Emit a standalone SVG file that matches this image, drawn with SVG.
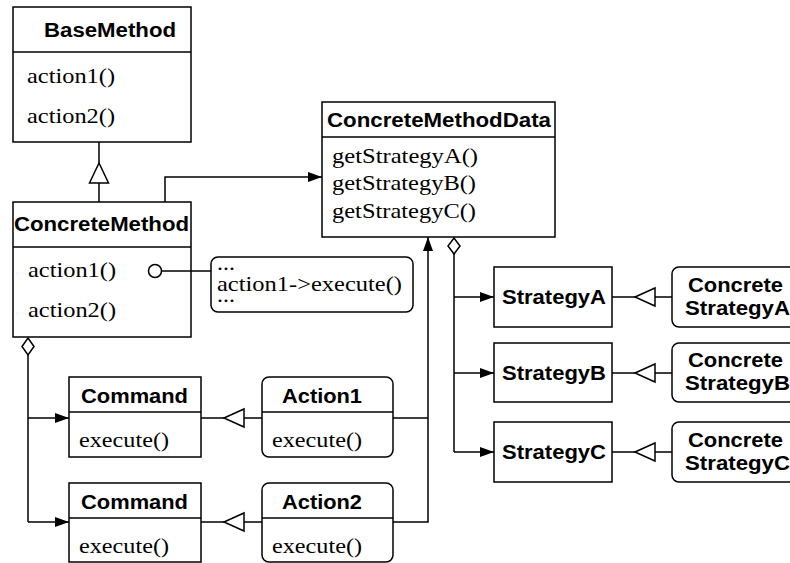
<svg xmlns="http://www.w3.org/2000/svg" width="790" height="563" viewBox="0 0 790 563">
  <style>
    .box { fill: #fff; stroke: #000; stroke-width: 1.5; }
    .sep { stroke: #000; stroke-width: 1.5; }
    .ln { fill: none; stroke: #000; stroke-width: 1.5; }
    .open { fill: #fff; stroke: #000; stroke-width: 1.5; }
    .title { font-family: "Liberation Sans", Arial, sans-serif; font-weight: bold; font-size: 20px; fill: #000; }
    .op { font-family: "Liberation Serif", "Times New Roman", serif; font-size: 22px; fill: #000; }
  </style>
  <defs>
    <marker id="arrow" viewBox="0 0 14 10" refX="14" refY="5" markerWidth="14" markerHeight="10" markerUnits="userSpaceOnUse" orient="auto">
      <path d="M0,0 L14,5 L0,10 z" fill="#000"/>
    </marker>
  </defs>

  <rect width="790" height="563" fill="#fff"/>

  <g id="BaseMethod">
    <rect class="box" x="13" y="7" width="178" height="135"/>
    <line class="sep" x1="13" y1="52" x2="191" y2="52"/>
    <text class="title" x="44" y="37" textLength="132" lengthAdjust="spacingAndGlyphs">BaseMethod</text>
    <text class="op" x="27" y="83" textLength="88" lengthAdjust="spacingAndGlyphs">action1()</text>
    <text class="op" x="27" y="123" textLength="88" lengthAdjust="spacingAndGlyphs">action2()</text>
  </g>

  <g id="ConcreteMethod">
    <rect class="box" x="13" y="202" width="178" height="135"/>
    <line class="sep" x1="13" y1="247" x2="191" y2="247"/>
    <text class="title" x="14" y="231" textLength="175" lengthAdjust="spacingAndGlyphs">ConcreteMethod</text>
    <text class="op" x="28" y="277" textLength="88" lengthAdjust="spacingAndGlyphs">action1()</text>
    <text class="op" x="28" y="317" textLength="88" lengthAdjust="spacingAndGlyphs">action2()</text>
  </g>

  <g id="note">
    <rect class="box" x="211" y="257" width="202" height="55" rx="7"/>
    <text class="op" x="217" y="270" textLength="18" lengthAdjust="spacingAndGlyphs">...</text>
    <text class="op" x="217" y="291" textLength="185" lengthAdjust="spacingAndGlyphs">action1-&gt;execute()</text>
    <text class="op" x="217" y="302" textLength="18" lengthAdjust="spacingAndGlyphs">...</text>
  </g>

  <g id="ConcreteMethodData">
    <rect class="box" x="322" y="102" width="233" height="135"/>
    <line class="sep" x1="322" y1="137" x2="555" y2="137"/>
    <text class="title" x="327" y="127" textLength="224" lengthAdjust="spacingAndGlyphs">ConcreteMethodData</text>
    <text class="op" x="332" y="163" textLength="146" lengthAdjust="spacingAndGlyphs">getStrategyA()</text>
    <text class="op" x="332" y="190" textLength="144" lengthAdjust="spacingAndGlyphs">getStrategyB()</text>
    <text class="op" x="332" y="218" textLength="144" lengthAdjust="spacingAndGlyphs">getStrategyC()</text>
  </g>

  <g id="StrategyA">
    <rect class="box" x="494" y="267" width="118" height="60"/>
    <text class="title" x="502" y="304" textLength="104" lengthAdjust="spacingAndGlyphs">StrategyA</text>
  </g>
  <g id="StrategyB">
    <rect class="box" x="494" y="343" width="118" height="59"/>
    <text class="title" x="502" y="380" textLength="104" lengthAdjust="spacingAndGlyphs">StrategyB</text>
  </g>
  <g id="StrategyC">
    <rect class="box" x="494" y="422" width="118" height="60"/>
    <text class="title" x="502" y="459" textLength="104" lengthAdjust="spacingAndGlyphs">StrategyC</text>
  </g>

  <g id="ConcreteStrategyA">
    <rect class="box" x="672" y="267" width="130" height="60" rx="7"/>
    <text class="title" x="688" y="292" textLength="95" lengthAdjust="spacingAndGlyphs">Concrete</text>
    <text class="title" x="685" y="315" textLength="105" lengthAdjust="spacingAndGlyphs">StrategyA</text>
  </g>
  <g id="ConcreteStrategyB">
    <rect class="box" x="672" y="343" width="130" height="59" rx="7"/>
    <text class="title" x="688" y="367" textLength="95" lengthAdjust="spacingAndGlyphs">Concrete</text>
    <text class="title" x="685" y="390" textLength="105" lengthAdjust="spacingAndGlyphs">StrategyB</text>
  </g>
  <g id="ConcreteStrategyC">
    <rect class="box" x="672" y="422" width="130" height="60" rx="7"/>
    <text class="title" x="688" y="447" textLength="95" lengthAdjust="spacingAndGlyphs">Concrete</text>
    <text class="title" x="685" y="470" textLength="105" lengthAdjust="spacingAndGlyphs">StrategyC</text>
  </g>

  <g id="Command1">
    <rect class="box" x="69" y="377" width="132" height="80"/>
    <line class="sep" x1="69" y1="412" x2="201" y2="412"/>
    <text class="title" x="81" y="403" textLength="107" lengthAdjust="spacingAndGlyphs">Command</text>
    <text class="op" x="79" y="447" textLength="90" lengthAdjust="spacingAndGlyphs">execute()</text>
  </g>
  <g id="Command2">
    <rect class="box" x="69" y="483" width="132" height="79"/>
    <line class="sep" x1="69" y1="518" x2="201" y2="518"/>
    <text class="title" x="81" y="509" textLength="107" lengthAdjust="spacingAndGlyphs">Command</text>
    <text class="op" x="79" y="553" textLength="90" lengthAdjust="spacingAndGlyphs">execute()</text>
  </g>

  <g id="Action1">
    <rect class="box" x="262" y="377" width="131" height="80" rx="7"/>
    <line class="sep" x1="262" y1="412" x2="393" y2="412"/>
    <text class="title" x="282" y="403" textLength="80" lengthAdjust="spacingAndGlyphs">Action1</text>
    <text class="op" x="272" y="447" textLength="90" lengthAdjust="spacingAndGlyphs">execute()</text>
  </g>
  <g id="Action2">
    <rect class="box" x="262" y="483" width="131" height="79" rx="7"/>
    <line class="sep" x1="262" y1="518" x2="393" y2="518"/>
    <text class="title" x="282" y="509" textLength="80" lengthAdjust="spacingAndGlyphs">Action2</text>
    <text class="op" x="272" y="553" textLength="90" lengthAdjust="spacingAndGlyphs">execute()</text>
  </g>

  <!-- connectors, drawn over the class boxes -->
  <g id="connectors">
    <!-- ConcreteMethod extends BaseMethod -->
    <path class="ln" d="M99,142 V163 M99,183 V202"/>
    <polygon class="open" points="99,163 89.5,183 108.5,183"/>

    <!-- ConcreteMethod uses ConcreteMethodData -->
    <path class="ln" d="M165,202 V177 H322" marker-end="url(#arrow)"/>

    <!-- note link from action1() -->
    <circle class="open" cx="155" cy="271" r="6.5"/>
    <path class="ln" d="M161.5,271 H211"/>

    <!-- Actions use ConcreteMethodData -->
    <path class="ln" d="M393,418 H428 M393,522 H428 V237" marker-end="url(#arrow)"/>

    <!-- ConcreteMethodData aggregates strategies -->
    <path class="ln" d="M454,254 V452"/>
    <polygon class="open" points="454,238 460,246 454,254 448,246"/>
    <path class="ln" d="M454,297 H494" marker-end="url(#arrow)"/>
    <path class="ln" d="M454,373 H494" marker-end="url(#arrow)"/>
    <path class="ln" d="M454,452 H494" marker-end="url(#arrow)"/>

    <!-- concrete strategies extend strategies -->
    <path class="ln" d="M612,297 H635 M655,297 H672"/>
    <polygon class="open" points="635,297 655,288 655,306"/>
    <path class="ln" d="M612,373 H635 M655,373 H672"/>
    <polygon class="open" points="635,373 655,364 655,382"/>
    <path class="ln" d="M612,452 H635 M655,452 H672"/>
    <polygon class="open" points="635,452 655,443 655,461"/>

    <!-- ConcreteMethod aggregates commands -->
    <path class="ln" d="M28,355 V522"/>
    <polygon class="open" points="28,338 34,346.5 28,355 22,346.5"/>
    <path class="ln" d="M28,418 H69" marker-end="url(#arrow)"/>
    <path class="ln" d="M28,522 H69" marker-end="url(#arrow)"/>

    <!-- actions extend Command -->
    <path class="ln" d="M201,418 H224 M244,418 H262"/>
    <polygon class="open" points="224,418 244,409 244,427"/>
    <path class="ln" d="M201,522 H224 M244,522 H262"/>
    <polygon class="open" points="224,522 244,513 244,531"/>
  </g>
</svg>
